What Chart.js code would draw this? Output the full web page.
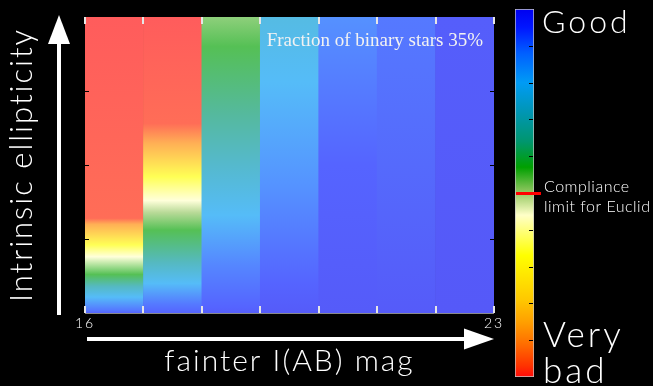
<!DOCTYPE html>
<html>
<head>
<meta charset="utf-8">
<script src="https://cdn.jsdelivr.net/npm/chart.js@4"></script>
<style>
  body { margin: 0; background: #000; }
  #wrap { position: relative; width: 653px; height: 386px; background: #000; overflow: hidden; }
  #heat { position: absolute; left: 0; top: 0; }
  #scale { position: absolute; left: 515px; top: 9px; }
</style>
</head>
<body>
<div id="wrap">
  <canvas id="heat" width="653" height="386"></canvas>
  <canvas id="scale" width="28" height="368"></canvas>
</div>
<script>
// magnitude bins (centres), the axis runs 16..23
const magBins = [16.5, 17.5, 18.5, 19.5, 20.5, 21.5, 22.5];
const magLabels = [16, 23];
const ellipTicks = [0.25, 0.5, 0.75];

// per column: ellipticity (0 bottom .. 1 top) and quality there (0 very bad .. 1 good)
const ellip16 = [0, 0.01, 0.054, 0.09, 0.13, 0.19, 0.23, 0.30, 0.32, 1];
const qual16  = [0.95, 0.92, 0.8, 0.7, 0.57, 0.44, 0.33, 0.12, 0.02, 0];
const ellip17 = [0, 0.03, 0.10, 0.17, 0.28, 0.34, 0.38, 0.46, 0.574, 0.64, 1];
const qual17  = [0.95, 0.92, 0.8, 0.7, 0.57, 0.5, 0.44, 0.33, 0.12, 0.02, 0];
const ellip18 = [0, 0.02, 0.16, 0.33, 0.5, 0.67, 0.9, 1];
const qual18  = [0.97, 0.95, 0.9, 0.8, 0.72, 0.64, 0.57, 0.53];
const ellip19 = [0, 0.1, 0.44, 0.78, 1];
const qual19  = [0.98, 0.95, 0.88, 0.8, 0.76];
const ellip20 = [0, 0.5, 1];
const qual20  = [0.98, 0.95, 0.885];
const ellip21 = [0, 1];
const qual21  = [0.98, 0.92];
const ellip22 = [0, 1];
const qual22  = [0.985, 0.97];

const columns = [
  { ellip: ellip16, qual: qual16 },
  { ellip: ellip17, qual: qual17 },
  { ellip: ellip18, qual: qual18 },
  { ellip: ellip19, qual: qual19 },
  { ellip: ellip20, qual: qual20 },
  { ellip: ellip21, qual: qual21 },
  { ellip: ellip22, qual: qual22 }
];

// colour scale, very bad (0) to good (1)
const cmapPos = [0, 0.03, 0.09, 0.15, 0.21, 0.33, 0.44, 0.5, 0.57, 0.64, 0.72, 0.8, 0.88, 0.95, 1];
const cmapRGB = [
  [255, 10, 10], [255, 50, 0], [255, 110, 0], [255, 160, 0], [255, 200, 0], [255, 255, 0],
  [255, 255, 200], [150, 200, 100], [0, 160, 0], [0, 150, 110], [0, 150, 180], [0, 155, 245],
  [0, 95, 255], [0, 22, 255], [0, 0, 240]
];
const barTicks = [0.1, 0.2, 0.3, 0.4, 0.5, 0.6, 0.7, 0.8, 0.9];
const complianceLimit = 0.5;
const binaryNote = 'Fraction of binary stars 35%';

function qualityRGB(q) {
  for (let i = 1; i < cmapPos.length; i++) {
    if (q <= cmapPos[i]) {
      let t = (q - cmapPos[i - 1]) / (cmapPos[i] - cmapPos[i - 1]);
      let a = cmapRGB[i - 1], b = cmapRGB[i];
      return a.map((c, k) => c + (b[k] - c) * t);
    }
  }
  return cmapRGB[cmapRGB.length - 1];
}

// heat map cells are the scale colours washed with white
function washed(rgb) {
  let c = rgb.map(v => Math.round(v * 2 / 3 + 85));
  return `rgb(${c[0]},${c[1]},${c[2]})`;
}

function columnGradient(ctx) {
  let chart = ctx.chart;
  if (!chart.chartArea) return '#000';
  let y = chart.scales.y;
  let col = columns[ctx.dataIndex];
  let g = chart.ctx.createLinearGradient(0, y.getPixelForValue(0), 0, y.getPixelForValue(1));
  col.ellip.forEach((e, i) => g.addColorStop(e, washed(qualityRGB(col.qual[i]))));
  return g;
}

function scaleGradient(ctx) {
  let chart = ctx.chart;
  if (!chart.chartArea) return '#000';
  let y = chart.scales.y;
  let g = chart.ctx.createLinearGradient(0, y.getPixelForValue(0), 0, y.getPixelForValue(1));
  cmapPos.forEach((p, i) => {
    let c = cmapRGB[i];
    g.addColorStop(p, `rgb(${c[0]},${c[1]},${c[2]})`);
  });
  return g;
}

const heatMarks = {
  id: 'heatMarks',
  beforeDraw(chart) {
    chart.ctx.letterSpacing = '2px';
  },
  afterDatasetsDraw(chart) {
    let { ctx, chartArea: a, scales: { x, y } } = chart;
    ctx.save();
    ctx.letterSpacing = '0px';
    ctx.fillStyle = '#8a8a8a';
    ctx.fillRect(a.left, a.bottom, a.right - a.left, 1);

    // magnitude ticks, white, inside top and bottom
    ctx.fillStyle = '#e6e6e6';
    x.ticks.forEach(t => {
      let px = Math.round(x.getPixelForValue(t.value));
      ctx.fillRect(px - 1, a.top, 2, 7);
      ctx.fillRect(px - 1, a.bottom - 7, 2, 7);
    });
    // ellipticity ticks, black
    ctx.fillStyle = '#000';
    ellipTicks.forEach(v => {
      let py = Math.round(y.getPixelForValue(v));
      ctx.fillRect(a.left, py, 4, 1);
      ctx.fillRect(a.right - 4, py, 4, 1);
    });

    ctx.font = '19px "Liberation Serif"';
    ctx.fillStyle = '#f2f2f2';
    ctx.textAlign = 'right';
    ctx.textBaseline = 'alphabetic';
    ctx.fillText(binaryNote, a.right - 11, a.top + 29);
    ctx.restore();
  },
  afterDraw(chart) {
    let { ctx, chartArea: a } = chart;
    ctx.save();
    ctx.fillStyle = '#fff';
    // up arrow
    let ax = a.left - 26;
    ctx.fillRect(ax - 2, a.top + 26, 4, a.bottom + 2 - (a.top + 26));
    ctx.beginPath();
    ctx.moveTo(ax, a.top - 2);
    ctx.lineTo(ax - 11, a.top + 27);
    ctx.lineTo(ax + 11, a.top + 27);
    ctx.closePath();
    ctx.fill();
    // right arrow
    let ay = a.bottom + 26;
    ctx.fillRect(a.left + 2, ay - 2, a.right - 30 - a.left, 4);
    ctx.beginPath();
    ctx.moveTo(a.right, ay);
    ctx.lineTo(a.right - 30, ay - 10.5);
    ctx.lineTo(a.right - 30, ay + 10.5);
    ctx.closePath();
    ctx.fill();

    // colour scale notes
    ctx.textAlign = 'left';
    ctx.textBaseline = 'alphabetic';
    ctx.letterSpacing = '3px';
    ctx.font = '300 32px Lato';
    ctx.fillText('Good', 542, 33);
    ctx.font = '300 35px Lato';
    ctx.fillText('Very', 543, 347);
    ctx.fillText('bad', 543, 383);
    ctx.letterSpacing = '0.5px';
    ctx.font = '300 16px Lato';
    ctx.fillText('Compliance', 544, 192);
    ctx.fillText('limit for Euclid', 544, 212);
    ctx.restore();
  }
};

const scaleMarks = {
  id: 'scaleMarks',
  afterDatasetsDraw(chart) {
    let { ctx, chartArea: a, scales: { y } } = chart;
    ctx.save();
    ctx.fillStyle = '#000';
    barTicks.forEach(v => {
      let py = Math.round(y.getPixelForValue(v));
      ctx.fillRect(a.right - 5, py, 4, 1);
    });
    ctx.fillStyle = '#f00';
    let py = Math.round(y.getPixelForValue(complianceLimit));
    ctx.fillRect(a.left + 1, py - 1, a.right - a.left + 6, 3);
    ctx.restore();
  }
};

new Chart(document.getElementById('heat'), {
  type: 'bar',
  data: {
    datasets: [{
      data: magBins.map(m => ({ x: m, y: 1 })),
      backgroundColor: columnGradient,
      borderWidth: 0,
      barPercentage: 1,
      categoryPercentage: 1
    }]
  },
  options: {
    responsive: false,
    animation: false,
    layout: { padding: { top: 17, right: 159, bottom: 0, left: 0 } },
    scales: {
      x: {
        type: 'linear',
        min: 16,
        max: 23,
        offset: false,
        grid: { display: false, drawTicks: false },
        border: { display: false },
        ticks: {
          stepSize: 1,
          autoSkip: false,
          maxRotation: 0,
          padding: 2,
          color: '#fff',
          font: { family: 'Lato', size: 14, weight: 300 },
          callback: v => magLabels.includes(v) ? String(v) : ''
        },
        title: {
          display: true,
          text: 'fainter I(AB) mag',
          color: '#fff',
          font: { family: 'Lato', size: 30, weight: 300 },
          padding: { top: 0, bottom: 7 }
        },
        afterFit: s => { s.height = 73; }
      },
      y: {
        min: 0,
        max: 1,
        grid: { display: false, drawTicks: false },
        border: { display: false },
        ticks: { display: false, stepSize: 0.25 },
        title: {
          display: true,
          text: 'Intrinsic ellipticity',
          color: '#fff',
          font: { family: 'Lato', size: 31, weight: 300 },
          padding: { top: 3, bottom: 0 }
        },
        afterFit: s => { s.width = 85; }
      }
    },
    plugins: { legend: { display: false }, tooltip: { enabled: false } }
  },
  plugins: [heatMarks]
});

new Chart(document.getElementById('scale'), {
  type: 'bar',
  data: {
    labels: ['quality'],
    datasets: [{
      data: [1],
      backgroundColor: scaleGradient,
      borderColor: '#c8c8c8',
      borderWidth: 1,
      borderSkipped: false,
      barPercentage: 1,
      categoryPercentage: 1
    }]
  },
  options: {
    responsive: false,
    animation: false,
    layout: { padding: { top: 0, right: 9, bottom: 0, left: 0 } },
    scales: {
      x: { display: false },
      y: { display: false, min: 0, max: 1 }
    },
    plugins: { legend: { display: false }, tooltip: { enabled: false } }
  },
  plugins: [scaleMarks]
});
</script>
</body>
</html>
